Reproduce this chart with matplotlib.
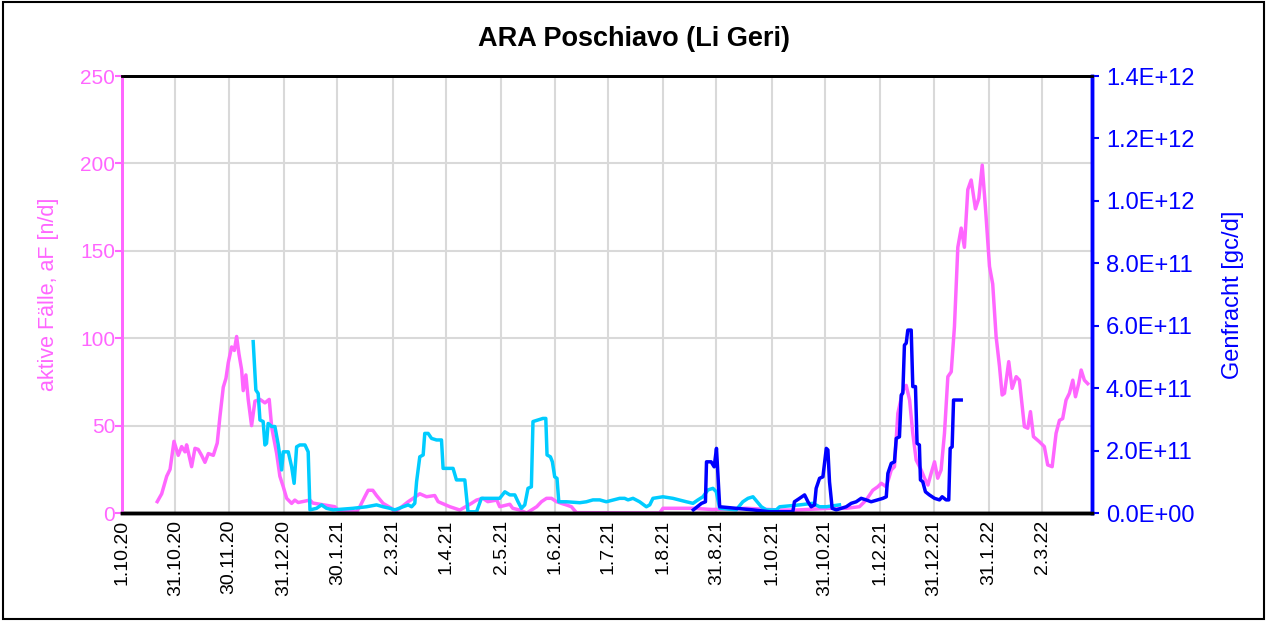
import numpy as np
import pandas as pd
import matplotlib
matplotlib.use("Agg")
import matplotlib.pyplot as plt
from matplotlib.ticker import FuncFormatter, MultipleLocator
from matplotlib.patches import Rectangle

plt.rcParams['font.family'] = ['Liberation Sans', 'DejaVu Sans']

# Data (days after 1.10.2020)
start = pd.Timestamp("2020-10-01")

faelle_day = [19.8, 22.3, 25.1, 27.0, 29.2, 31.6, 33.5, 35.4, 36.3, 39.1, 41.0, 42.8, 44.7, 46.6,
              48.5, 51.3, 53.5, 55.0, 56.9, 58.4, 59.7, 61.6, 63.1, 64.4, 65.7, 67.2, 68.1, 69.6,
              70.9, 72.8, 74.7, 77.5, 80.3, 82.7, 84.1, 86.9, 88.7, 90.6, 92.5, 95.3, 97.1, 99.0,
              105.6, 107.2, 119.6, 122.4, 131.8, 133.6, 136.4, 138.3, 140.9, 143.0, 146.7, 151.4,
              153.3, 156.1, 160.8, 163.6, 167.3, 171.1, 175.7, 177.6, 184.2, 189.8, 196.3, 199.2,
              202.7, 205.5, 210.6, 212.2, 217.9, 219.5, 223.5, 227.4, 233.0, 235.7, 238.5, 241.3,
              244.1, 246.9, 249.7, 252.5, 255.3, 302.1, 303.9, 320.6, 331.8, 350.8, 369.5, 378.8,
              397.5, 406.9, 414.3, 418.1, 421.8, 424.6, 426.6, 429.4, 432.2, 434.0, 435.9, 438.7,
              440.6, 442.5, 444.3, 446.2, 449.0, 450.9, 452.8, 454.6, 456.5, 458.3, 460.2, 462.1,
              464.0, 465.9, 467.7, 469.6, 471.5, 473.3, 475.2, 477.1, 479.5, 481.4, 483.3, 485.1,
              487.4, 489.2, 491.1, 493.0, 494.5, 495.8, 498.2, 500.1, 502.4, 504.2, 507.0, 508.9,
              510.4, 512.1, 515.4, 518.2, 520.1, 522.6, 524.8, 526.7, 528.5, 530.4, 532.3, 534.2,
              535.7, 537.5, 538.9, 540.7, 542.6]
faelle_val = [6.5, 11, 21, 25, 41, 33, 38, 35, 39, 26.5, 37, 36.4, 33, 29,
              34, 33, 40, 55, 72, 77, 86, 95, 93, 101, 91, 82, 70, 79,
              65, 50, 64, 65, 63, 65, 49, 34, 21, 15, 8.4, 5.5, 7.4, 6,
              7.4, 5.7, 3.6, 0.7, 0.7, 3.6, 9.3, 13, 13, 10, 5.5, 2.7,
              0.7, 2.7, 6.5, 8.4, 11, 9.3, 10, 6.5, 3.6, 1.7, 5.5, 7.4,
              8.4, 6.5, 7.4, 3.6, 5, 2.7, 1.7, 0, 3.6, 6.5, 8.4, 8.4,
              6.5, 5.5, 4.6, 3.6, 0.2, 0, 2.7, 2.7, 2, 2.7, 1.7, 1.7,
              2.7, 2.7, 3.6, 7.4, 13, 15, 17, 15, 24.6, 26.5, 57, 70,
              73, 64.6, 45.6, 30.3, 24.6, 19.9, 16, 22.7, 29.3, 19.9, 24.6, 45.6,
              78, 80.8, 106.6, 152, 163, 152, 185, 190.5, 174, 180, 199, 175,
              141, 131, 101, 84, 67.5, 68.5, 86.6, 71.3, 78, 76, 49.4, 48.5,
              58, 43.7, 40.8, 38, 27.5, 26.5, 45.6, 53, 54, 64.6, 68.5, 76,
              66.5, 74, 81.8, 76, 74]

# Genfracht series 1 (x 1e11 gc/d)
gf1_day = [73.7, 75.2, 76.5, 77.5, 79.3, 80.3, 81.2, 82.1, 84.1, 85.9, 87.8, 89.7, 90.6, 93.4,
           95.3, 96.7, 98.1, 99.9, 102.8, 104.6, 105.6, 109.3, 112.1, 114.9, 118.6, 129.7, 137.4,
           143.0, 146.7, 150.5, 153.3, 157.9, 160.8, 162.7, 164.5, 165.5, 167.3, 169.2, 170.1,
           172.0, 173.9, 176.7, 179.5, 180.4, 186.0, 187.9, 192.6, 194.4, 199.2, 201.9, 212.2,
           215.1, 217.9, 220.7, 222.5, 224.4, 226.3, 228.1, 230.0, 230.9, 233.7, 236.5, 238.1,
           238.8, 240.7, 241.8, 243.1, 244.4, 245.4, 249.7, 257.2, 260.9, 264.6, 268.4, 272.1,
           279.6, 282.4, 284.3, 287.1, 290.8, 294.6, 296.5, 298.3, 303.9, 309.5, 317.1, 320.8,
           323.6, 326.4, 329.2, 332.0, 333.9, 335.8, 345.1, 348.8, 351.7, 354.5, 359.2, 362.0,
           367.6, 369.5, 380.7, 388.1, 391.9, 395.7, 403.1]
gf1_val = [5.49, 3.94, 3.83, 2.98, 2.93, 2.18, 2.23, 2.87, 2.77, 2.77, 2.18, 1.38, 1.96, 1.96,
           1.48, 0.95, 2.12, 2.18, 2.18, 1.96, 0.1, 0.15, 0.26, 0.15, 0.1, 0.15, 0.2,
           0.26, 0.2, 0.15, 0.1, 0.2, 0.26, 0.2, 0.31, 1.0, 1.8, 1.86, 2.55,
           2.55, 2.39, 2.34, 2.34, 1.43, 1.43, 1.06, 1.06, 0.04, 0.04, 0.47, 0.47,
           0.68, 0.58, 0.58, 0.36, 0.15, 0.26, 0.79, 0.84, 2.93, 2.98, 3.03, 3.03,
           1.86, 1.8, 1.64, 1.16, 1.11, 0.36, 0.36, 0.33, 0.36, 0.42, 0.42, 0.36,
           0.47, 0.47, 0.42, 0.47, 0.36, 0.2, 0.26, 0.47, 0.52, 0.47, 0.36, 0.31,
           0.42, 0.52, 0.74, 0.79, 0.68, 0.15, 0.1, 0.36, 0.47, 0.52, 0.2, 0.1,
           0.1, 0.2, 0.26, 0.31, 0.2, 0.2, 0.26]

# Genfracht series 2 (x 1e11 gc/d)
gf2_day = [321.0, 325.6, 327.8, 328.4, 331.0, 332.7, 334.0, 335.8, 345.1, 354.5, 363.8, 376.9,
           377.8, 380.7, 383.5, 385.4, 387.2, 389.1, 390.0, 391.9, 393.8, 395.7, 396.6, 397.5,
           399.0, 401.3, 404.1, 406.9, 409.7, 412.5, 415.3, 418.1, 420.9, 427.5, 429.4, 430.3,
           432.2, 434.0, 435.0, 436.8, 437.8, 438.7, 439.6, 440.6, 441.5, 443.4, 444.3, 445.8,
           446.7, 448.0, 448.6, 449.9, 451.4, 453.6, 456.5, 459.3, 460.8, 463.0, 464.5, 465.3,
           466.4, 467.2, 471.5]
gf2_val = [0.1, 0.31, 0.36, 1.64, 1.64, 1.48, 2.07, 0.2, 0.15, 0.1, 0.04, 0.04,
           0.36, 0.47, 0.58, 0.36, 0.2, 0.26, 0.79, 1.11, 1.16, 2.07, 2.02, 1.0,
           0.15, 0.1, 0.15, 0.2, 0.31, 0.36, 0.47, 0.42, 0.36, 0.47, 0.52, 1.27,
           1.59, 1.64, 2.39, 2.44, 3.78, 3.84, 5.38, 5.44, 5.86, 5.86, 4.05, 4.05,
           2.23, 2.18, 1.06, 1.0, 0.68, 0.58, 0.47, 0.42, 0.52, 0.42, 0.42, 2.07,
           2.12, 3.62, 3.62]

tick_labels = ["1.10.20", "31.10.20", "30.11.20", "31.12.20", "30.1.21", "2.3.21", "1.4.21",
               "2.5.21", "1.6.21", "1.7.21", "1.8.21", "31.8.21", "1.10.21", "31.10.21",
               "1.12.21", "31.12.21", "31.1.22", "2.3.22"]

pink = "#FF66FF"
cyan = "#00CCFF"
blue = "#0000FF"


def to_dates(days):
    return start + pd.to_timedelta(np.array(days), unit="D")


fig = plt.figure(figsize=(12.67, 6.21), dpi=100)
ax1 = fig.add_axes([0.0963, 0.1739, 0.7656, 0.7037])
ax2 = ax1.twinx()

ax1.plot(to_dates(faelle_day), faelle_val, color=pink, lw=2.5)
ax2.plot(to_dates(gf1_day), np.array(gf1_val) * 1e11, color=cyan, lw=2.5)
ax2.plot(to_dates(gf2_day), np.array(gf2_val) * 1e11, color=blue, lw=2.5)

ax1.set_xlim(start, start + pd.Timedelta(days=545))
ax1.set_ylim(0, 250)
ax2.set_ylim(0, 1.4e12)

tick_dates = pd.to_datetime(tick_labels, format="%d.%m.%y")
ax1.set_xticks(tick_dates)
ax1.set_xticklabels(tick_labels, rotation=90, fontsize=14)
ax1.tick_params(axis="x", length=0, pad=5)

ax1.yaxis.set_major_locator(MultipleLocator(50))
ax1.tick_params(axis="y", colors=pink, labelsize=15, length=5, width=1.5,
                direction="out", pad=0)
ax2.yaxis.set_major_locator(MultipleLocator(2e11))
ax2.yaxis.set_major_formatter(FuncFormatter(lambda v, p: "%.1E" % v))
ax2.tick_params(axis="y", colors=blue, labelsize=17, length=5, width=1.5,
                direction="out", pad=5)

ax1.grid(True, color="#D9D9D9", lw=1.5)
ax1.set_axisbelow(True)

ax1.set_ylabel("aktive Fälle, aF [n/d]", color=pink, fontsize=15.5, labelpad=15)
ax2.set_ylabel("Genfracht [gc/d]", color=blue, fontsize=17, labelpad=20)

for ax in (ax1, ax2):
    ax.spines["top"].set_color("black")
    ax.spines["top"].set_linewidth(2)
    ax.spines["bottom"].set_color("black")
    ax.spines["bottom"].set_linewidth(2.5)
    ax.spines["left"].set_color(pink)
    ax.spines["left"].set_linewidth(2)
    ax.spines["right"].set_color(blue)
    ax.spines["right"].set_linewidth(2.5)

fig.text(0.5, 0.937, "ARA Poschiavo (Li Geri)", ha="center", va="center",
         fontsize=19.5, fontweight="bold")

fig.patches.append(Rectangle((0.002, 0.003), 0.996, 0.994, transform=fig.transFigure,
                             fill=False, edgecolor="black", lw=1.5))

fig.savefig("out.png", dpi=100)
